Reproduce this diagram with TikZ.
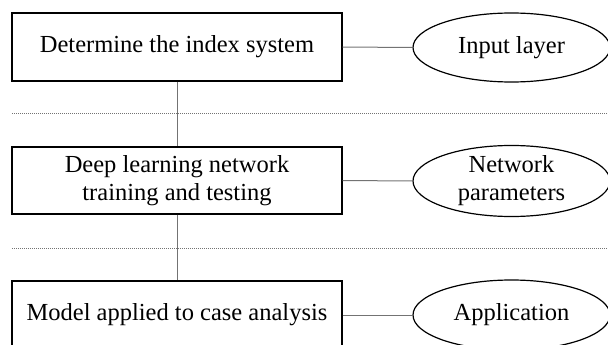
\documentclass[tikz,border=0pt]{standalone}
\usepackage{fontspec}
\setmainfont{Liberation Serif}
\usetikzlibrary{shapes.geometric}
\begin{document}
\begin{tikzpicture}[x=1pt,y=-1pt,
  stagebox/.style={draw=black,line width=1.3pt,minimum width=330pt,minimum height=68pt,inner sep=0pt,align=center},
  layerell/.style={draw=black,ellipse,line width=1.2pt,minimum width=197pt,minimum height=69pt,inner sep=0pt,align=center},
  link/.style={draw=black!55,line width=1pt},
  sepline/.style={draw=black!55,line width=0.8pt,dash pattern=on 1pt off 1pt}]
 \fontsize{24.5}{28}\selectfont
 \clip (0,0) rectangle (608,345);
 % separators
 \draw [sepline] (12,113) -- (610,113);
 \draw [sepline] (12,248) -- (610,248);
 % stages
 \node [stagebox] (index) at (177,47) {Determine the index system};
 \node [stagebox,minimum height=67pt] (train) at (177,180.5) {Deep learning network\\training and testing};
 \node [stagebox] (apply) at (177,315) {Model applied to case analysis};
 % layers
 \node [layerell] (input) at (511.5,47.5) {Input layer};
 \node [layerell,minimum height=68pt] (params) at (511.5,181) {Network\\parameters};
 \node [layerell,minimum height=70pt] (app) at (511.5,315) {Application};
 \draw [link] (index.east) -- (input.west);
 \draw [link] (train.east) -- (params.west);
 \draw [link] (apply.east) -- (app.west);
 \draw [link] (index.south) -- (train.north);
 \draw [link] (train.south) -- (apply.north);
\end{tikzpicture}
\end{document}
